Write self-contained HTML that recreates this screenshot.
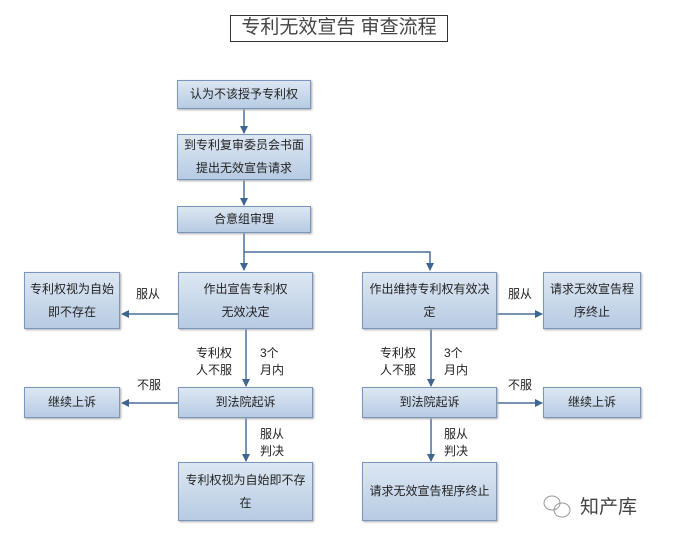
<!DOCTYPE html>
<html><head><meta charset="utf-8"><style>
body{margin:0;width:685px;height:535px;background:#fff;position:relative;overflow:hidden;font-family:"Liberation Sans","Noto Sans CJK SC",sans-serif;}
.b{position:absolute;box-sizing:border-box;border:1.5px solid #7a96bb;background:linear-gradient(#dde7f3,#b7cbe3);display:flex;align-items:center;justify-content:center;text-align:center;font-size:12px;line-height:23px;color:#222;box-shadow:1px 1px 2px #aaa;}
.t{position:absolute;font-size:12px;line-height:17px;color:#222;}
</style></head><body>
<div style="position:absolute;left:230px;top:15px;width:218px;height:27px;box-sizing:border-box;border:1.5px solid #333;font-size:19px;line-height:24px;text-align:center;color:#444;">专利无效宣告&nbsp;审查流程</div>
<svg width="685" height="535" style="position:absolute;left:0;top:0">
<defs><marker id="a" markerWidth="8" markerHeight="8" refX="7" refY="4" orient="auto" markerUnits="userSpaceOnUse"><path d="M0,0L8,4L0,8z" fill="#3f6591"/></marker></defs>
<g stroke="#4a6f9a" stroke-width="1.5" fill="none">
<line x1="244" y1="109" x2="244" y2="133" marker-end="url(#a)"/>
<line x1="244" y1="180" x2="244" y2="205" marker-end="url(#a)"/>
<line x1="244" y1="233" x2="244" y2="270" marker-end="url(#a)"/>
<polyline points="244,252 430,252 430,270" marker-end="url(#a)"/>
<line x1="178" y1="314" x2="122" y2="314" marker-end="url(#a)"/>
<line x1="497" y1="314" x2="542" y2="314" marker-end="url(#a)"/>
<line x1="246" y1="329" x2="246" y2="386" marker-end="url(#a)"/>
<line x1="431" y1="329" x2="431" y2="386" marker-end="url(#a)"/>
<line x1="178" y1="403" x2="122" y2="403" marker-end="url(#a)"/>
<line x1="497" y1="403" x2="542" y2="403" marker-end="url(#a)"/>
<line x1="246" y1="418" x2="246" y2="461" marker-end="url(#a)"/>
<line x1="431" y1="418" x2="431" y2="461" marker-end="url(#a)"/>
</g>
<g stroke="#999" fill="none" stroke-width="1"><ellipse cx="552" cy="503" rx="8" ry="7"/><ellipse cx="562" cy="510" rx="8" ry="7"/></g>
</svg>
<div class="b" style="left:177px;top:80px;width:134px;height:29px">认为不该授予专利权</div>
<div class="b" style="left:177px;top:134px;width:134px;height:46px">到专利复审委员会书面<br>提出无效宣告请求</div>
<div class="b" style="left:177px;top:206px;width:134px;height:27px">合意组审理</div>
<div class="b" style="left:24px;top:272px;width:96px;height:57px">专利权视为自始<br>即不存在</div>
<div class="b" style="left:178px;top:272px;width:135px;height:57px">作出宣告专利权<br>无效决定</div>
<div class="b" style="left:362px;top:272px;width:135px;height:57px">作出维持专利权有效决<br>定</div>
<div class="b" style="left:543px;top:272px;width:98px;height:57px">请求无效宣告程<br>序终止</div>
<div class="b" style="left:24px;top:387px;width:96px;height:31px">继续上诉</div>
<div class="b" style="left:178px;top:387px;width:135px;height:31px">到法院起诉</div>
<div class="b" style="left:362px;top:387px;width:135px;height:31px">到法院起诉</div>
<div class="b" style="left:543px;top:387px;width:98px;height:31px">继续上诉</div>
<div class="b" style="left:178px;top:462px;width:135px;height:59px">专利权视为自始即不存<br>在</div>
<div class="b" style="left:362px;top:462px;width:135px;height:59px">请求无效宣告程序终止</div>
<div class="t" style="left:136px;top:286px">服从</div>
<div class="t" style="left:508px;top:286px">服从</div>
<div class="t" style="left:196px;top:345px;text-align:center">专利权<br>人不服</div>
<div class="t" style="left:260px;top:345px">3个<br>月内</div>
<div class="t" style="left:380px;top:345px;text-align:center">专利权<br>人不服</div>
<div class="t" style="left:444px;top:345px">3个<br>月内</div>
<div class="t" style="left:137px;top:377px">不服</div>
<div class="t" style="left:508px;top:377px">不服</div>
<div class="t" style="left:260px;top:426px">服从<br>判决</div>
<div class="t" style="left:444px;top:426px">服从<br>判决</div>
<div style="position:absolute;left:580px;top:492px;font-size:19px;color:#444">知产库</div>
</body></html>
